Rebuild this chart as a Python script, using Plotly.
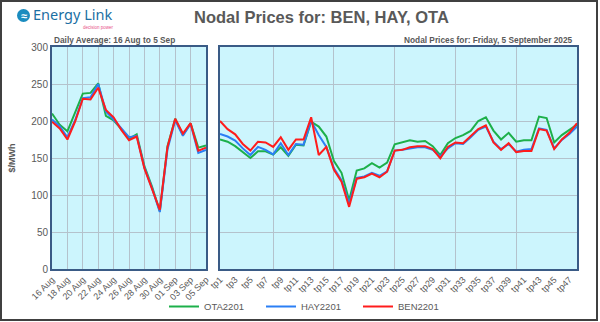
import plotly.graph_objects as go

# ---------------- data ----------------
days = ["16 Aug", "17 Aug", "18 Aug", "19 Aug", "20 Aug", "21 Aug", "22 Aug",
        "23 Aug", "24 Aug", "25 Aug", "26 Aug", "27 Aug", "28 Aug", "29 Aug",
        "30 Aug", "31 Aug", "01 Sep", "02 Sep", "03 Sep", "04 Sep", "05 Sep"]
ota_daily = [210, 195, 186, 211, 237, 238, 251, 207, 201, 189, 176, 182, 139, 111,
             78, 166, 203, 181, 197, 164, 167]
hay_daily = [202, 193, 178, 201, 231, 232, 250, 213, 202, 190, 178, 180, 137, 109,
             77, 162, 201, 180, 196, 157, 161]
ben_daily = [199, 190, 175, 199, 230, 229, 245, 215, 205, 188, 174, 179, 136, 109,
             80, 165, 203, 183, 197, 160, 164]

periods = ["tp%d" % i for i in range(1, 49)]
ota_tp = [175, 172, 166, 158, 150, 159, 159, 154.5, 164.5, 153, 168, 167, 199, 192.5,
          179, 146, 130, 93, 133, 136, 143, 137, 143.7, 168.5, 171, 174, 172, 173,
          166, 154, 170, 177, 181, 186.6, 200, 205, 187, 175, 184, 172, 174, 174,
          206, 204, 171, 181, 188, 195]
hay_tp = [182.5, 179, 173.5, 163, 154, 165, 161, 155, 170, 154, 169, 168, 200, 181,
          165, 136, 120, 88.5, 123, 125, 130, 126, 132, 160, 161, 163, 164.5, 164.5,
          161, 152, 163, 170, 169, 178, 188, 192.5, 172, 162, 169, 158.6, 161, 162,
          190, 188, 163, 174.5, 182.5, 192.5]
ben_tp = [200, 189, 182, 169, 160, 172, 171, 165, 178, 161, 175, 175, 205, 154,
          165, 134, 118, 84, 122, 124, 129, 124, 131.5, 160, 161, 164.5, 166, 166,
          162, 149.5, 165, 171, 170, 179, 189, 194, 171, 161, 170, 158, 159.5, 159.5,
          189, 187, 162, 175, 184, 197]

series_names = ["OTA2201", "HAY2201", "BEN2201"]
series_colors = ["#1db04a", "#2b7ff5", "#ff1c1c"]

title_text = "Nodal Prices for: BEN, HAY, OTA"
left_sub = "Daily Average: 16 Aug to 5 Sep"
right_sub = "Nodal Prices for: Friday, 5 September 2025"
y_title = "$/MWh"
y_ticks = [0, 50, 100, 150, 200, 250, 300]

# ---------------- layout helpers ----------------
W, H = 600, 322
L, R, T, B = 52, 23, 47, 53
PW, PH = W - L - R, H - T - B


def px(x):
    return (x - L) / PW


def py(y):
    return (H - B - y) / PH


FONT = "Liberation Sans"
GREY = "#595959"
BG = "#ccf5fd"
GRID = "#b4c2cc"
FRAME = "#3a5b86"

fig = go.Figure()

dx = list(range(len(days)))
px_idx = list(range(len(periods)))
daily = [ota_daily, hay_daily, ben_daily]
tps = [ota_tp, hay_tp, ben_tp]
for name, col, dvals, tvals in zip(series_names, series_colors, daily, tps):
    fig.add_trace(go.Scatter(x=dx, y=dvals, mode="lines", name=name,
                             line=dict(color=col, width=2), xaxis="x", yaxis="y",
                             legendgroup=name, showlegend=True,
                             text=days, hoverinfo="text+y"))
    fig.add_trace(go.Scatter(x=px_idx, y=tvals, mode="lines", name=name,
                             line=dict(color=col, width=2), xaxis="x2", yaxis="y2",
                             legendgroup=name, showlegend=False,
                             text=periods, hoverinfo="text+y"))

left_end = px(206)
right_start = px(220)

axis_common = dict(showline=True, linecolor=FRAME, linewidth=2, mirror=True,
                   zeroline=False, ticks="", tickangle=-45, automargin=False,
                   tickfont=dict(family=FONT, size=9, color=GREY))

fig.update_layout(
    width=W, height=H,
    margin=dict(l=L, r=R, t=T, b=B, pad=0, autoexpand=False),
    paper_bgcolor="white", plot_bgcolor=BG,
    font=dict(family=FONT, color=GREY),
    xaxis=dict(domain=[0, left_end], range=[0, len(days) - 1],
               tickmode="array", tickvals=dx[::2], ticktext=days[::2],
               showgrid=True, gridcolor=GRID, gridwidth=1, **axis_common),
    xaxis2=dict(domain=[right_start, 1], range=[0, len(periods) - 1], anchor="y2",
                tickmode="array", tickvals=px_idx[::2], ticktext=periods[::2],
                showgrid=False,
                minor=dict(tickvals=px_idx[7::8], showgrid=True, gridcolor=GRID,
                           gridwidth=1, ticks=""),
                **axis_common),
    yaxis=dict(domain=[0, 1], range=[0, 300], tickmode="array", tickvals=y_ticks,
               showgrid=True, gridcolor=GRID, gridwidth=1, showline=True,
               linecolor=FRAME, linewidth=2, mirror=True, zeroline=False,
               ticks="", automargin=False,
               tickfont=dict(family=FONT, size=10, color=GREY),
               title=dict(text="<b>" + y_title + "</b>", standoff=14,
                          font=dict(family=FONT, size=9, color=GREY))),
    yaxis2=dict(domain=[0, 1], range=[0, 300], anchor="x2", matches="y",
                tickmode="array", tickvals=y_ticks, showticklabels=False,
                showgrid=True, gridcolor=GRID, gridwidth=1, showline=True,
                linecolor=FRAME, linewidth=2, mirror=True, zeroline=False, ticks=""),
    legend=dict(orientation="h", x=px(164), xanchor="left", y=py(292),
                yanchor="top", font=dict(family=FONT, size=9.5, color=GREY),
                bgcolor="rgba(0,0,0,0)", itemwidth=30, entrywidth=52,
                borderwidth=0),
    showlegend=True,
)

annotations = [
    dict(text="<b>" + title_text + "</b>", x=px(321), y=py(17), xanchor="center",
         yanchor="middle", font=dict(family=FONT, size=16.5, color=GREY)),
    dict(text="<b>" + left_sub + "</b>", x=px(52), y=py(40), xanchor="left",
         yanchor="middle", font=dict(family=FONT, size=8.3, color=GREY)),
    dict(text="<b>" + right_sub + "</b>", x=px(575), y=py(40), xanchor="right",
         yanchor="middle", font=dict(family=FONT, size=8.3, color=GREY)),
    dict(text="Energy Link", x=px(31), y=py(13.5), xanchor="left", yanchor="middle",
         font=dict(family="Noto Sans", size=14.5, color="#1b6fa3")),
    dict(text="decision power", x=px(98), y=py(27), xanchor="center",
         yanchor="middle", font=dict(family=FONT, size=4.5, color="#e8508a")),
    dict(text="<b>≈</b>", x=px(23.5), y=py(15.5), xanchor="center", yanchor="middle",
         font=dict(family=FONT, size=11, color="white")),
]
for a in annotations:
    a.update(xref="paper", yref="paper", showarrow=False)
fig.update_layout(annotations=annotations)

fig.update_layout(shapes=[
    dict(type="circle", xref="paper", yref="paper", x0=px(17), x1=px(30),
         y0=py(22), y1=py(9), fillcolor="#1a8cbf", line=dict(width=0), layer="above"),
    dict(type="rect", xref="paper", yref="paper", x0=px(1), x1=px(597),
         y0=py(320), y1=py(1), line=dict(color="#404040", width=2),
         fillcolor="rgba(0,0,0,0)", layer="above"),
])

fig.write_html("out.html")
